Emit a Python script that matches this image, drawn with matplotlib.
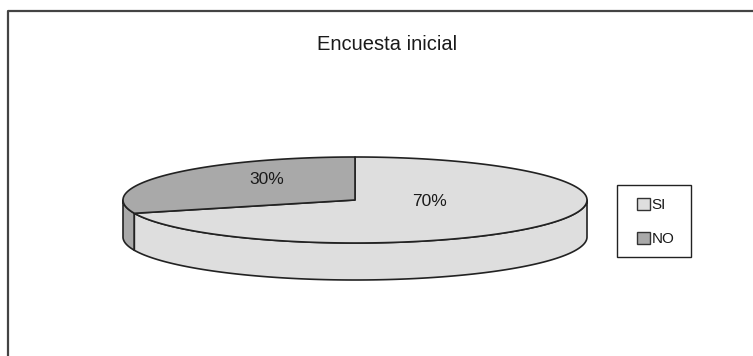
import numpy as np
import matplotlib
matplotlib.use("Agg")
import matplotlib.pyplot as plt
from matplotlib.patches import Polygon, Patch, Rectangle

plt.rcParams['font.family'] = ['Liberation Sans', 'DejaVu Sans']

# ---- data ----
title = "Encuesta inicial"
categories = ["SI", "NO"]
values = [70, 30]
labels = ["70%", "30%"]

# ---- style / layout ----
top_colors = ["#DEDEDE", "#A9A9A9"]
side_colors = ["#DEDEDE", "#A9A9A9"]
edge = "#222222"
W, H = 753, 356
cx, cy = 355, H - 200      # ellipse centre (pixel coords, y up)
a, b, depth = 232, 43, 37  # semi-axes and thickness
start = 90.0               # first slice starts at 12 o'clock
label_pos = [(430, H - 202), (267, H - 180)]

fig = plt.figure(figsize=(W / 100, H / 100), dpi=100)
ax = fig.add_axes([0, 0, 1, 1])
ax.set_xlim(0, W)
ax.set_ylim(0, H)
ax.axis("off")

# border (top and left only, as in reference)
ax.plot([8.5, 8.5, W], [0, H - 10.5, H - 10.5], color="#444444", lw=1.6,
        solid_capstyle="butt")

total = sum(values)
spans = [v / total * 360 for v in values]
ang = {}
ang[1] = (start, start + spans[1])
ang[0] = (start + spans[1], start + 360)


def pt(t, dz=0.0):
    r = np.deg2rad(t)
    return cx + a * np.cos(r), cy + b * np.sin(r) - dz


# side faces (front half: 180..360 deg)
for i in [1, 0]:
    t0, t1 = ang[i]
    lo = max(t0, 180)
    hi = min(t1, 360)
    if hi > lo:
        ts = np.linspace(lo, hi, 200)
        top = [pt(t) for t in ts]
        bot = [pt(t, depth) for t in ts[::-1]]
        ax.add_patch(Polygon(top + bot, closed=True, facecolor=side_colors[i],
                             edgecolor=edge, lw=1.2, joinstyle="round"))

# top faces
for i in [0, 1]:
    t0, t1 = ang[i]
    ts = np.linspace(t0, t1, 400)
    pts = [(cx, cy)] + [pt(t) for t in ts]
    ax.add_patch(Polygon(pts, closed=True, facecolor=top_colors[i],
                         edgecolor=edge, lw=1.2, joinstyle="round"))

# labels
for i, txt in enumerate(labels):
    ax.text(label_pos[i][0], label_pos[i][1], txt, ha="center", va="center",
            fontsize=12.5, color="#1a1a1a")

# title
ax.text(387, H - 44, title, ha="center", va="center", fontsize=14.5,
        color="#1a1a1a")

# legend box
ax.add_patch(Rectangle((617, H - 257), 74, 72, facecolor="white",
                       edgecolor="#222222", lw=1.0))
handles = [Patch(facecolor=top_colors[i], edgecolor="#333333", lw=1.0,
                 label=categories[i]) for i in range(len(categories))]
leg = fig.legend(handles=handles, loc="upper left",
                 bbox_to_anchor=(637 / W, 1 - 198 / H),
                 frameon=False, fontsize=11,
                 handlelength=0.85, handleheight=0.8, handletextpad=0.1,
                 labelspacing=1.3, borderpad=0.0, borderaxespad=0.0)
for t in leg.get_texts():
    t.set_color("#1a1a1a")

fig.savefig("out.png", dpi=100, facecolor="white")
